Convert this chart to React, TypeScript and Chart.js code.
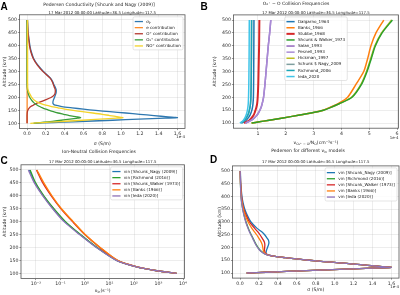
import React, { useEffect, useRef } from 'react';
import { Chart, registerables } from 'chart.js';

Chart.register(...registerables);

const FONT = '"DejaVu Sans", sans-serif';
const TEXT = '#222';
const FRAME = '#555';
const GRID = 'rgba(175,175,175,0.45)';

// ---------- shared ----------
const yTicks = [100, 150, 200, 250, 300, 350, 400, 450, 500];
const sigmaTicks = [0, 0.2, 0.4, 0.6, 0.8, 1.0, 1.2, 1.4, 1.6];
const freqTicksB = [1, 2, 3, 4, 5, 6];
const vinTicks = [1e-2, 1e-1, 1, 10, 100, 1000, 10000];
const SUBTITLE = '17 Mar 2012 00:00:00 Latitude=36.5 Longitude=117.5';

// ---------- Panel A : Pedersen conductivity (1e-4 S/m) ----------
const altAD = [100, 103, 106, 110, 114, 118, 120, 122, 125, 130, 135, 140, 145, 150, 155, 160, 165, 170, 175, 180, 190, 200, 210, 220, 230, 240, 250, 260, 275, 300, 325, 350, 375, 400, 450, 500];
const sigmaP = [0.07, 0.28, 0.49, 0.77, 1.05, 1.33, 1.47, 1.6, 1.5, 1.35, 1.2, 1.05, 0.88, 0.73, 0.6, 0.48, 0.37, 0.3, 0.28, 0.275, 0.28, 0.292, 0.302, 0.31, 0.31, 0.3, 0.285, 0.275, 0.25, 0.177, 0.116, 0.072, 0.047, 0.031, 0.013, 0.005];
const eContrib = [0.002, 0.002, 0.002, 0.002, 0.002, 0.002, 0.002, 0.002, 0.002, 0.002, 0.001, 0.001, 0.001, 0.001, 0.001, 0.001, 0.001, 0.001, 0.001, 0.001, 0.001, 0.001, 0.001, 0.001, 0.001, 0.001, 0.001, 0.001, 0.001, 0.001, 0.001, 0.001, 0.001, 0.001, 0.001, 0.001];
const oPlusContrib = [0, 0, 0, 0, 0, 0, 0, 0, 0, 0, 0.001, 0.002, 0.004, 0.008, 0.015, 0.025, 0.04, 0.065, 0.09, 0.12, 0.19, 0.255, 0.29, 0.3, 0.3, 0.29, 0.28, 0.27, 0.245, 0.17, 0.11, 0.067, 0.042, 0.027, 0.011, 0.004];
const o2PlusContrib = [0.07, 0.14, 0.22, 0.32, 0.41, 0.5, 0.54, 0.57, 0.53, 0.45, 0.39, 0.33, 0.28, 0.24, 0.2, 0.165, 0.135, 0.11, 0.09, 0.072, 0.048, 0.03, 0.018, 0.01, 0.005, 0.002, 0.001, 0.0005, 0, 0, 0, 0, 0, 0, 0, 0];
const noPlusContrib = [0.035, 0.17, 0.31, 0.5, 0.68, 0.87, 0.95, 1.02, 0.97, 0.88, 0.8, 0.7, 0.59, 0.49, 0.4, 0.33, 0.26, 0.2, 0.155, 0.12, 0.075, 0.05, 0.035, 0.02, 0.01, 0.007, 0.007, 0.006, 0.006, 0.006, 0.006, 0.006, 0.006, 0.006, 0.006, 0.006];

// ---------- Panel B : O2+ - O collision frequencies (1e-4 cm^3 s^-1) ----------
const altB = [100, 105, 110, 120, 130, 140, 150, 160, 175, 200, 250, 300, 350, 400, 450, 500];
const dalgarno1964 = [0.42, 0.5, 0.57, 0.65, 0.71, 0.75, 0.78, 0.8, 0.82, 0.835, 0.842, 0.846, 0.849, 0.851, 0.853, 0.855];
const banks1966 = [0.77, 1.05, 1.35, 1.9, 2.45, 2.95, 3.35, 3.57, 3.88, 4.22, 4.52, 4.8, 4.94, 5.06, 5.24, 5.52];
const stubbe1968 = [0.5, 0.6, 0.68, 0.77, 0.84, 0.88, 0.91, 0.94, 0.97, 0.99, 1.01, 1.02, 1.03, 1.04, 1.045, 1.05];
const shcunkWalker1973 = [0.77, 1.05, 1.35, 1.9, 2.45, 2.95, 3.35, 3.6, 3.92, 4.38, 4.72, 4.92, 5.07, 5.22, 5.46, 5.83];
const salan1993 = [0.55, 0.66, 0.75, 0.87, 0.96, 1.02, 1.07, 1.11, 1.15, 1.2, 1.25, 1.29, 1.33, 1.37, 1.42, 1.46];
const pesnell1993 = [0.55, 0.66, 0.75, 0.87, 0.96, 1.02, 1.07, 1.11, 1.15, 1.2, 1.25, 1.29, 1.33, 1.37, 1.42, 1.46];
const hickman1997 = [0.77, 1.05, 1.35, 1.9, 2.45, 2.95, 3.35, 3.59, 3.91, 4.36, 4.7, 4.9, 5.05, 5.2, 5.44, 5.8];
const schunkNagy2009 = [0.38, 0.45, 0.51, 0.58, 0.63, 0.67, 0.69, 0.71, 0.73, 0.745, 0.755, 0.76, 0.763, 0.766, 0.768, 0.77];
const richmond2006 = [0.38, 0.45, 0.51, 0.58, 0.63, 0.67, 0.69, 0.71, 0.73, 0.745, 0.755, 0.76, 0.763, 0.766, 0.768, 0.77];
const ieda2020 = [0.35, 0.42, 0.47, 0.53, 0.57, 0.6, 0.62, 0.635, 0.65, 0.66, 0.67, 0.675, 0.68, 0.683, 0.685, 0.688];

// ---------- Panel C : ion-neutral collision frequencies (s^-1) ----------
const altC = [100, 110, 125, 150, 200, 250, 300, 350, 400, 450, 500];
const vinShcunkNagy = [5500, 850, 129, 19.5, 3.0, 0.63, 0.15, 0.051, 0.02, 0.0091, 0.0054];
const vinRichmond = [5500, 850, 130, 20, 3.1, 0.66, 0.16, 0.054, 0.021, 0.0097, 0.0058];
const vinShcunkWalker = [5500, 850, 131, 21, 4.0, 0.98, 0.31, 0.105, 0.042, 0.019, 0.0105];
const vinBanks = [5500, 850, 132, 21.5, 4.2, 1.02, 0.33, 0.11, 0.045, 0.021, 0.011];
const vinIeda = [5500, 850, 128, 19, 2.9, 0.6, 0.14, 0.048, 0.019, 0.0086, 0.0049];

// ---------- Panel D : Pedersen for different vin models (1e-4 S/m) ----------
const pedShcunkNagy = [0.07, 0.28, 0.49, 0.77, 1.05, 1.33, 1.47, 1.6, 1.5, 1.35, 1.2, 1.05, 0.88, 0.73, 0.6, 0.48, 0.37, 0.3, 0.28, 0.275, 0.28, 0.29, 0.3, 0.305, 0.298, 0.28, 0.26, 0.235, 0.18, 0.115, 0.078, 0.05, 0.032, 0.02, 0.008, 0.003];
const pedRichmond = [0.07, 0.28, 0.49, 0.77, 1.05, 1.33, 1.47, 1.6, 1.5, 1.35, 1.2, 1.05, 0.88, 0.73, 0.6, 0.48, 0.37, 0.295, 0.262, 0.24, 0.21, 0.19, 0.172, 0.158, 0.145, 0.132, 0.118, 0.105, 0.088, 0.063, 0.044, 0.029, 0.018, 0.011, 0.004, 0.0015];
const pedShcunkWalker = [0.07, 0.28, 0.49, 0.77, 1.05, 1.33, 1.47, 1.6, 1.5, 1.35, 1.2, 1.05, 0.88, 0.73, 0.6, 0.48, 0.37, 0.3, 0.275, 0.265, 0.258, 0.26, 0.262, 0.258, 0.245, 0.228, 0.21, 0.19, 0.155, 0.1, 0.066, 0.04, 0.025, 0.016, 0.006, 0.002];
const pedBanks = [0.07, 0.28, 0.49, 0.77, 1.05, 1.33, 1.47, 1.6, 1.5, 1.35, 1.2, 1.05, 0.88, 0.73, 0.6, 0.48, 0.37, 0.298, 0.27, 0.255, 0.245, 0.24, 0.235, 0.225, 0.21, 0.193, 0.175, 0.155, 0.125, 0.085, 0.056, 0.035, 0.022, 0.013, 0.005, 0.002];
const pedIeda = [0.07, 0.28, 0.49, 0.77, 1.05, 1.33, 1.47, 1.6, 1.5, 1.35, 1.2, 1.05, 0.88, 0.73, 0.6, 0.48, 0.37, 0.294, 0.26, 0.236, 0.205, 0.185, 0.168, 0.154, 0.141, 0.128, 0.114, 0.101, 0.084, 0.06, 0.042, 0.027, 0.017, 0.01, 0.004, 0.0015];

// ---------- text helpers ----------
type Seg = [string, number]; // 0 normal, 1 subscript, 2 superscript
type Rich = string | Seg[];

const SUP: Record<string, string> = { '-': '⁻', '0': '⁰', '1': '¹', '2': '²', '3': '³', '4': '⁴', '5': '⁵', '6': '⁶', '7': '⁷', '8': '⁸', '9': '⁹' };
const supNum = (n: number) => String(n).split('').map((c) => SUP[c] || c).join('');

function drawRich(ctx: CanvasRenderingContext2D, rt: Rich, x: number, y: number, size: number, align: string, color: string) {
  const segs: Seg[] = typeof rt === 'string' ? [[rt, 0]] : rt;
  const fnt = (k: number) => `${k ? size * 0.72 : size}px ${FONT}`;
  let total = 0;
  const ws = segs.map(([t, k]) => {
    ctx.font = fnt(k);
    const w = ctx.measureText(t).width;
    total += w;
    return w;
  });
  let cx = align === 'left' ? x : align === 'center' ? x - total / 2 : x - total;
  ctx.textAlign = 'left';
  ctx.textBaseline = 'middle';
  ctx.fillStyle = color;
  segs.forEach(([t, k], i) => {
    ctx.font = fnt(k);
    const dy = k === 1 ? size * 0.3 : k === 2 ? -size * 0.35 : 0;
    ctx.fillText(t, cx, y + dy);
    cx += ws[i];
  });
  return total;
}

function measureRich(ctx: CanvasRenderingContext2D, rt: Rich, size: number) {
  const segs: Seg[] = typeof rt === 'string' ? [[rt, 0]] : rt;
  let total = 0;
  segs.forEach(([t, k]) => {
    ctx.font = `${k ? size * 0.72 : size}px ${FONT}`;
    total += ctx.measureText(t).width;
  });
  return total;
}

// ---------- panel specs ----------
type Series = { label: Rich; color: string; alts: number[]; values: number[]; width?: number; z?: number };

const panels: any[] = [
  {
    key: 'A', pageX: 0, pageY: 0, w: 200, h: 148,
    area: { left: 19.5, top: 14.8, right: 185, bottom: 128.5 },
    xType: 'linear', xMin: -0.08, xMax: 1.68, xTicks: sigmaTicks, xFmt: (v: number) => v.toFixed(1),
    letter: 'A', letterX: 0.5, letterY: 9.5,
    title: 'Pedersen Conductivity [Shcunk and Nagy (2009)]', titleX: 99, titleY: 4.5,
    subtitleY: 12.8, xlabel: 'σ (S/m)', xlabelY: 143.5, ylabelX: 5,
    offsetText: '1e-4', offsetY: 137.3, legend: 'ne',
    series: [
      { label: [['σ', 0], ['P', 1]], color: '#2f78b0', alts: altAD, values: sigmaP },
      { label: 'e contribution', color: '#ff8c2a', alts: altAD, values: eContrib },
      { label: 'O⁺ contribution', color: '#b5382e', alts: altAD, values: oPlusContrib },
      { label: 'O₂⁺ contribution', color: '#3a9d3a', alts: altAD, values: o2PlusContrib },
      { label: 'NO⁺ contribution', color: '#f3d32a', alts: altAD, values: noPlusContrib },
    ] as Series[],
  },
  {
    key: 'B', pageX: 200, pageY: 0, w: 200, h: 148,
    area: { left: 33.5, top: 14.9, right: 198.5, bottom: 128.2 },
    xType: 'linear', xMin: 0.12, xMax: 6.05, xTicks: freqTicksB, xFmt: (v: number) => String(v),
    letter: 'B', letterX: 0.5, letterY: 9.5,
    title: 'O₂⁺ − O Collision Frequencies', titleX: 96, titleY: 3.8,
    subtitleY: 12.8,
    xlabel: [['ν', 0], ['O₂⁺ − O', 1], ['/N', 0], ['O', 1], ['(cm⁻³s⁻¹)', 0]], xlabelY: 143, ylabelX: 15,
    offsetText: '1e-4', offsetY: 137.7, legend: 'n',
    series: [
      { label: 'Dalgarno_1964', color: '#1f77b4', alts: altB, values: dalgarno1964, width: 1.5 },
      { label: 'Banks_1966', color: '#ff7f0e', alts: altB, values: banks1966, width: 1.5 },
      { label: 'Stubbe_1968', color: '#d62728', alts: altB, values: stubbe1968, width: 2 },
      { label: 'Shcunk & Walker_1973', color: '#2ca02c', alts: altB, values: shcunkWalker1973, width: 1.5 },
      { label: 'Salan_1993', color: '#9467bd', alts: altB, values: salan1993, width: 1.5 },
      { label: 'Pesnell_1993', color: '#a98bd6', alts: altB, values: pesnell1993, width: 1.5 },
      { label: 'Hickman_1997', color: '#bcbd22', alts: altB, values: hickman1997, width: 1.5, z: 20 },
      { label: 'Schunk $ Nagy_2009', color: '#7f9f9f', alts: altB, values: schunkNagy2009, width: 1.5 },
      { label: 'Richmond_2006', color: '#1aa6b7', alts: altB, values: richmond2006, width: 1.5 },
      { label: 'Ieda_2020', color: '#3fc4e8', alts: altB, values: ieda2020, width: 1.5 },
    ] as Series[],
  },
  {
    key: 'C', pageX: 0, pageY: 148, w: 200, h: 147,
    area: { left: 21, top: 16.8, right: 184.5, bottom: 130.5 },
    xType: 'logarithmic', xMin: Math.pow(10, -2.61), xMax: Math.pow(10, 4.06), xTicks: vinTicks,
    xFmt: (v: number) => '10' + supNum(Math.round(Math.log10(v))),
    letter: 'C', letterX: 0.5, letterY: 16,
    title: 'Ion-Neutral Collision Frequencies', titleX: 99, titleY: 3.7,
    subtitleY: 14.3, xlabel: [['ν', 0], ['in', 1], ['(s⁻¹)', 0]], xlabelY: 143, ylabelX: 5,
    offsetText: '', offsetY: 0, legend: 'ne',
    series: [
      { label: 'vin [Shcunk_Nagy (2009)]', color: '#1f77b4', alts: altC, values: vinShcunkNagy },
      { label: 'vin [Richmond (2016)]', color: '#2ca02c', alts: altC, values: vinRichmond },
      { label: 'vin [Shcunk_Walker (1973)]', color: '#d62728', alts: altC, values: vinShcunkWalker },
      { label: 'vin [Banks (1966)]', color: '#ff7f0e', alts: altC, values: vinBanks },
      { label: 'vin [Ieda (2020)]', color: '#8e72b8', alts: altC, values: vinIeda },
    ] as Series[],
  },
  {
    key: 'D', pageX: 200, pageY: 148, w: 200, h: 147,
    area: { left: 32.5, top: 17.9, right: 199, bottom: 130.1 },
    xType: 'linear', xMin: -0.08, xMax: 1.68, xTicks: sigmaTicks, xFmt: (v: number) => v.toFixed(1),
    letter: 'D', letterX: 10, letterY: 15.3,
    title: [['Pedersen for different ν', 0], ['in', 1], [' models', 0]], titleX: 108, titleY: 3,
    subtitleY: 13.7, xlabel: 'σ (S/m)', xlabelY: 142, ylabelX: 20,
    offsetText: '1e-4', offsetY: 138.7, legend: 'ne',
    series: [
      { label: 'vin [Shcunk_Nagy (2009)]', color: '#1f77b4', alts: altAD, values: pedShcunkNagy },
      { label: 'vin [Richmond (2016)]', color: '#2ca02c', alts: altAD, values: pedRichmond },
      { label: 'vin [Shcunk_Walker (1973)]', color: '#d62728', alts: altAD, values: pedShcunkWalker },
      { label: 'vin [Banks (1966)]', color: '#ff7f0e', alts: altAD, values: pedBanks },
      { label: 'vin [Ieda (2020)]', color: '#8e72b8', alts: altAD, values: pedIeda },
    ] as Series[],
  },
];

// ---------- legend ----------
function drawLegend(ctx: CanvasRenderingContext2D, a: any, spec: any) {
  const f = 4.1;
  const pad = 1.7, handle = 8.2, gap = 3.3, row = 6.1;
  const series: Series[] = spec.series;
  const tw = Math.max(...series.map((s) => measureRich(ctx, s.label, f)));
  const bw = pad * 2 + handle + gap + tw + 0.5;
  const bh = pad * 2 + row * series.length - 0.8;
  const top = a.top + 2;
  const left = spec.legend === 'n' ? (a.left + a.right) / 2 - bw / 2 : a.right - 2 - bw;
  const r = 1.5;
  ctx.beginPath();
  ctx.moveTo(left + r, top);
  ctx.lineTo(left + bw - r, top);
  ctx.quadraticCurveTo(left + bw, top, left + bw, top + r);
  ctx.lineTo(left + bw, top + bh - r);
  ctx.quadraticCurveTo(left + bw, top + bh, left + bw - r, top + bh);
  ctx.lineTo(left + r, top + bh);
  ctx.quadraticCurveTo(left, top + bh, left, top + bh - r);
  ctx.lineTo(left, top + r);
  ctx.quadraticCurveTo(left, top, left + r, top);
  ctx.closePath();
  ctx.fillStyle = 'rgba(255,255,255,0.85)';
  ctx.fill();
  ctx.strokeStyle = '#d4d4d4';
  ctx.lineWidth = 0.6;
  ctx.stroke();
  series.forEach((s, i) => {
    const cy = top + pad + row / 2 + i * row;
    ctx.beginPath();
    ctx.moveTo(left + pad, cy);
    ctx.lineTo(left + pad + handle, cy);
    ctx.strokeStyle = s.color;
    ctx.lineWidth = s.width || 1.3;
    ctx.stroke();
    drawRich(ctx, s.label, left + pad + handle + gap, cy, f, 'left', TEXT);
  });
}

function makeDecor(spec: any) {
  return {
    id: 'decor' + spec.key,
    afterDraw(chart: any) {
      const ctx: CanvasRenderingContext2D = chart.ctx;
      const a = chart.chartArea;
      ctx.save();
      ctx.strokeStyle = FRAME;
      ctx.lineWidth = 0.8;
      ctx.strokeRect(a.left, a.top, a.right - a.left, a.bottom - a.top);
      drawLegend(ctx, a, spec);
      const cxA = (a.left + a.right) / 2;
      const cyA = (a.top + a.bottom) / 2;
      ctx.fillStyle = '#000';
      ctx.font = `bold 10px "Liberation Sans", "DejaVu Sans", sans-serif`;
      ctx.textAlign = 'left';
      ctx.textBaseline = 'alphabetic';
      ctx.fillText(spec.letter, spec.letterX, spec.letterY);
      drawRich(ctx, spec.title, spec.titleX, spec.titleY, 4.5, 'center', TEXT);
      drawRich(ctx, SUBTITLE, cxA, spec.subtitleY, 3.9, 'center', TEXT);
      drawRich(ctx, spec.xlabel, cxA, spec.xlabelY, 4.6, 'center', TEXT);
      ctx.save();
      ctx.translate(spec.ylabelX, cyA);
      ctx.rotate(-Math.PI / 2);
      drawRich(ctx, 'Altitude (km)', 0, 0, 4.6, 'center', TEXT);
      ctx.restore();
      if (spec.offsetText) drawRich(ctx, spec.offsetText, a.right, spec.offsetY, 3.9, 'right', TEXT);
      ctx.restore();
    },
  };
}

function buildConfig(spec: any): any {
  const series: Series[] = spec.series;
  const n = series.length;
  const tickFont = { family: FONT, size: 4.7 };
  return {
    type: 'line',
    data: {
      datasets: series.map((s, i) => ({
        label: typeof s.label === 'string' ? s.label : s.label.map((q) => q[0]).join(''),
        data: s.values.map((v, j) => ({ x: v, y: s.alts[j] })),
        borderColor: s.color,
        backgroundColor: s.color,
        borderWidth: s.width || 1.3,
        pointRadius: 0,
        pointHoverRadius: 0,
        tension: 0.25,
        fill: false,
        order: s.z !== undefined ? s.z : n - i,
      })),
    },
    options: {
      animation: false,
      responsive: false,
      maintainAspectRatio: false,
      events: [],
      layout: { padding: { top: spec.area.top, left: 0, right: spec.w - spec.area.right, bottom: 0 } },
      plugins: { legend: { display: false }, title: { display: false }, tooltip: { enabled: false } },
      scales: {
        x: {
          type: spec.xType,
          position: 'bottom',
          min: spec.xMin,
          max: spec.xMax,
          afterBuildTicks: (sc: any) => {
            sc.ticks = spec.xTicks.map((v: number) => ({ value: v }));
          },
          afterFit: (sc: any) => {
            sc.height = spec.h - spec.area.bottom;
            sc.paddingLeft = 0;
            sc.paddingRight = 0;
          },
          ticks: {
            callback: (v: any) => spec.xFmt(Number(v)),
            font: tickFont,
            color: '#333',
            padding: 1,
            autoSkip: false,
            maxRotation: 0,
            minRotation: 0,
          },
          grid: { color: GRID, lineWidth: 0.5, drawTicks: true, tickLength: 1.6, tickColor: FRAME, tickWidth: 0.6 },
          border: { display: false },
        },
        y: {
          type: 'linear',
          position: 'left',
          min: 80,
          max: 520,
          afterBuildTicks: (sc: any) => {
            sc.ticks = yTicks.map((v) => ({ value: v }));
          },
          afterFit: (sc: any) => {
            sc.width = spec.area.left;
            sc.paddingTop = 0;
            sc.paddingBottom = 0;
          },
          ticks: {
            callback: (v: any) => String(v),
            font: tickFont,
            color: '#333',
            padding: 1,
            autoSkip: false,
          },
          grid: { color: GRID, lineWidth: 0.5, drawTicks: true, tickLength: 1.6, tickColor: FRAME, tickWidth: 0.6 },
          border: { display: false },
        },
      },
    },
    plugins: [makeDecor(spec)],
  };
}

function Panel({ spec }: { spec: any }) {
  const ref = useRef<HTMLCanvasElement>(null);
  useEffect(() => {
    const chart = new Chart(ref.current as HTMLCanvasElement, buildConfig(spec));
    return () => chart.destroy();
  }, [spec]);
  return (
    <canvas
      ref={ref}
      width={spec.w}
      height={spec.h}
      style={{ position: 'absolute', left: spec.pageX, top: spec.pageY, width: spec.w, height: spec.h, display: 'block' }}
    />
  );
}

export default function App() {
  return (
    <div style={{ position: 'absolute', left: 0, top: 0, width: 400, height: 295, background: '#fff', overflow: 'hidden' }}>
      {panels.map((p) => (
        <Panel key={p.key} spec={p} />
      ))}
    </div>
  );
}
